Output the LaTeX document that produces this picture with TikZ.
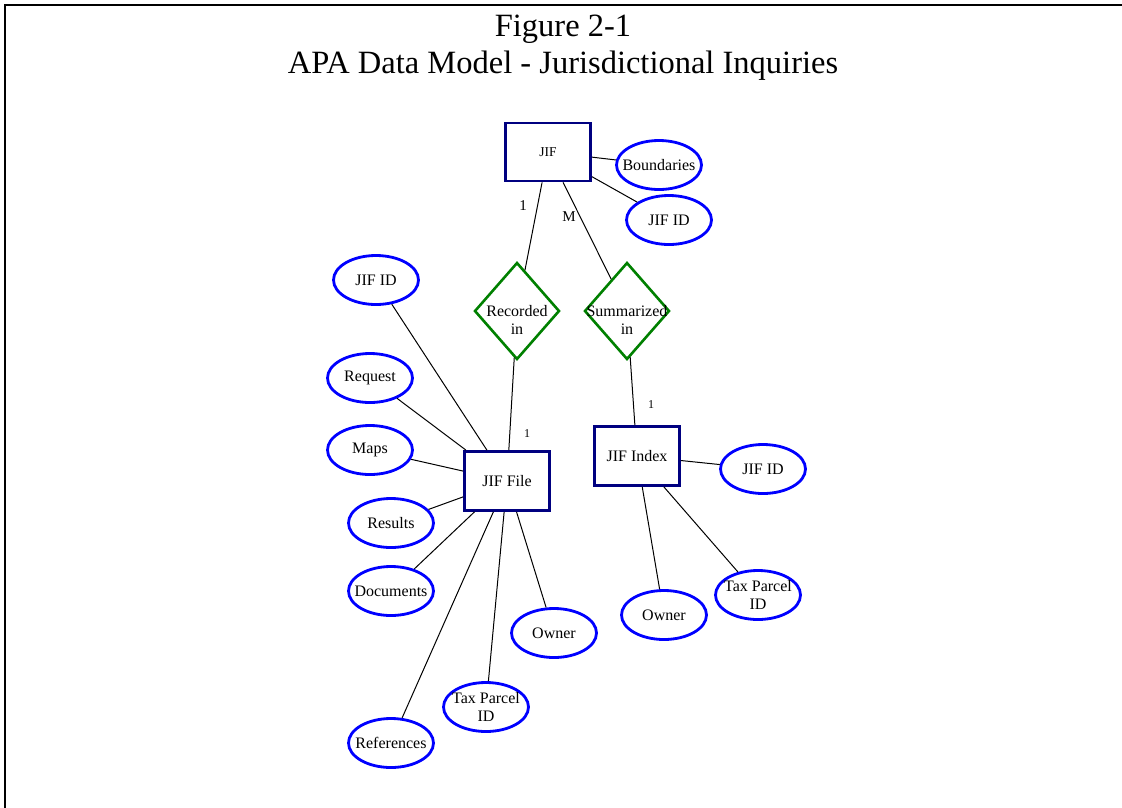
\documentclass[tikz,border=0pt]{standalone}
\usepackage{fontspec}
\setmainfont{Liberation Serif}
\usetikzlibrary{shapes.geometric}
\definecolor{entnavy}{RGB}{0,0,128}
\definecolor{attrblue}{RGB}{0,0,255}
\definecolor{relgreen}{RGB}{0,128,0}
\tikzset{
  ent/.style  ={draw=entnavy, line width=2.8pt, minimum width=85pt,
                minimum height=59pt, inner sep=0pt, font=\fontsize{16}{18}\selectfont},
  intext/.style={font=\fontsize{16}{18}\selectfont, align=center, inner sep=0pt},
  attr/.style ={ellipse, draw=attrblue, line width=2.8pt, minimum width=85pt,
                minimum height=49pt, inner sep=0pt,
                label={[intext]center:#1}},
  rel/.style  ={diamond, draw=relgreen, line width=2.6pt, minimum width=85pt,
                minimum height=97pt, inner sep=0pt,
                label={[intext, yshift=-9pt]center:#1}},
  link/.style ={draw=black, line width=1pt},
  card/.style ={inner sep=0pt, font=\fontsize{15}{17}\selectfont},
  cardsm/.style={inner sep=0pt, font=\fontsize{12}{14}\selectfont},
  ttl/.style  ={inner sep=0pt, anchor=base, font=\fontsize{32.5}{37}\selectfont},
}

\begin{document}
\begin{tikzpicture}[x=1pt, y=-1pt]
  \useasboundingbox (0,0) rectangle (1122,807);

  % ---- frame + title ----
  \draw[line width=2.2pt] (5,812) -- (5,5) -- (1130,5);
  \node[ttl] (title) at (563,36) {Figure 2-1};
  \node[ttl] (subtitle) at (563,73) {APA Data Model - Jurisdictional Inquiries};

  % ---- entities ----
  \node[ent, minimum height=58pt, font=\fontsize{13.5}{15}\selectfont] (jif) at (548,152) {JIF};
  \node[ent] (file)  at (507,481) {JIF File};
  \node[ent] (index) at (637,456) {JIF Index};

  % ---- relationships ----
  \node[rel={Recorded\\in}]   (rec) at (517,311) {};
  \node[rel={Summarized\\in}] (sum) at (627,311) {};

  % ---- JIF attributes ----
  \node[attr=Boundaries] (bound) at (659,165) {};
  \node[attr={JIF ID}]   (jifid) at (669,220) {};

  % ---- JIF File attributes ----
  \node[attr={JIF ID}]          (fid)  at (376,280) {};
  \node[attr=Request]           (req)  at (370,378) {};
  \node[attr=Maps]              (maps) at (370,450) {};
  \node[attr=Results]           (res)  at (391,523) {};
  \node[attr=Documents]         (docs) at (391,591) {};
  \node[attr=Owner]             (fown) at (554,633) {};
  \node[attr={Tax Parcel\\ID}]  (ftax) at (486,707) {};
  \node[attr=References]        (refs) at (391,743) {};

  % ---- JIF Index attributes ----
  \node[attr={JIF ID}]          (iid)  at (763,469) {};
  \node[attr=Owner]             (iown) at (664,615) {};
  \node[attr={Tax Parcel\\ID}]  (itax) at (758,595) {};

  % ---- cardinalities ----
  \node[card]   (c1) at (523,206) {1};
  \node[card]   (cm) at (569,217) {M};
  \node[cardsm] (c2) at (527,434) {1};
  \node[cardsm] (c3) at (651,405) {1};

  % ---- links ----
  \draw[link] (jif) -- (bound);
  \draw[link] (jif) -- (jifid);
  \draw[link] (jif) -- (rec);
  \draw[link] (jif) -- (sum);
  \draw[link] (rec) -- (file);
  \draw[link] (sum) -- (index);

  \foreach \a in {fid,req,maps,res,docs,fown,ftax,refs}
    \draw[link] (file) -- (\a);
  \foreach \a in {iid,iown,itax}
    \draw[link] (index) -- (\a);

\end{tikzpicture}
\end{document}
